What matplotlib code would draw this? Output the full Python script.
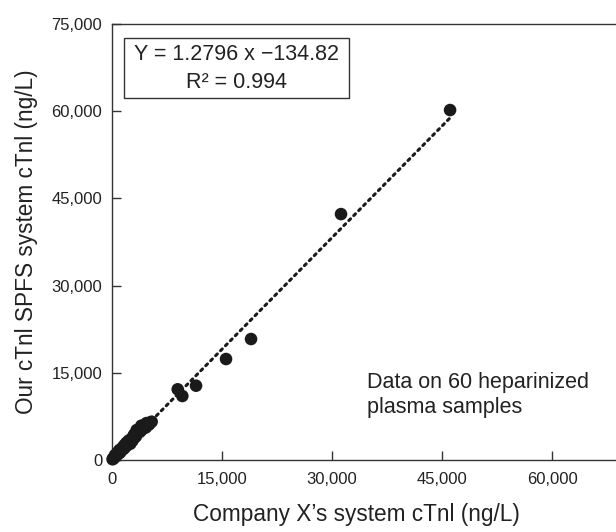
import matplotlib
matplotlib.use("Agg")
import matplotlib.pyplot as plt
from matplotlib.patches import Rectangle

plt.rcParams['font.family'] = ['Liberation Sans', 'DejaVu Sans']

# Data (ng/L)
company_x = [80, 150, 260, 340, 420, 510, 590, 700, 760, 880, 950, 1020, 1150, 1230, 1310,
             1420, 1500, 1630, 1720, 1800, 1890, 2010, 2130, 2230, 2290, 2410, 2500, 2640,
             2780, 2870, 2950, 3120, 3260, 3370, 3480, 3650, 3810, 3950, 4120, 4300, 4480,
             4620, 4850, 5050, 5220, 5410, 620, 1080, 1960, 2560, 3030, 4000, 4700,
             8960, 9590, 11460, 15550, 18960, 31230, 46100]
spfs_y = [120, 260, 300, 520, 860, 640, 900, 1050, 1300, 1100, 1400, 1720, 1500, 1800, 1650,
          2000, 2250, 1950, 2580, 2300, 2700, 2450, 3000, 2870, 3350, 3100, 2800, 3600,
          3300, 4010, 3700, 4300, 4050, 5160, 4700, 5000, 4850, 5400, 5250, 5700, 6020,
          5600, 6200, 6100, 6450, 6590, 780, 1250, 2950, 3450, 4400, 5900, 6350,
          12160, 11010, 12780, 17370, 20810, 42300, 60200]

slope = 1.2796
intercept = -134.82
fit_x = [0, 46000]
fit_y = [slope * v + intercept for v in fit_x]

x_ticks = [0, 15000, 30000, 45000, 60000]
y_ticks = [0, 15000, 30000, 45000, 60000, 75000]
x_tick_labels = ["0", "15,000", "30,000", "45,000", "60,000"]
y_tick_labels = ["0", "15,000", "30,000", "45,000", "60,000", "75,000"]

W, H = 616, 532
fig = plt.figure(figsize=(W / 100, H / 100), dpi=100)
ax = fig.add_axes([112 / W, (H - 460) / H, 660 / W, 436 / H])
ax.set_xlim(0, 90000)
ax.set_ylim(0, 75000)

dark = '#222222'
ax.plot(fit_x, fit_y, linestyle=(0, (0.8, 1.5)), color='#1a1a1a', linewidth=2.2,
        dash_capstyle='round', zorder=2)
ax.scatter(company_x, spfs_y, s=82, color='#1a1a1a', edgecolors='none', zorder=3, clip_on=False)

for s in ['left', 'bottom', 'top']:
    ax.spines[s].set_color('#333333')
    ax.spines[s].set_linewidth(1.0)
ax.spines['right'].set_visible(False)

ax.set_xticks(x_ticks)
ax.set_xticklabels(x_tick_labels)
ax.set_yticks(y_ticks)
ax.set_yticklabels(y_tick_labels)
ax.tick_params(axis='both', direction='in', length=6.5, width=1.0, color='#333333',
               labelsize=12, labelcolor=dark)
ax.tick_params(axis='x', pad=9)
ax.tick_params(axis='y', pad=7)

ax.set_xlabel("Company X’s system cTnl (ng/L)", fontsize=16.3, color=dark, labelpad=12)
ax.xaxis.set_label_coords((356 - 112) / 660, -(512 - 460) / 436 - 0.005)
ax.xaxis.label.set_va('center')
ax.set_ylabel("Our cTnl SPFS system cTnl (ng/L)", fontsize=16.3, color=dark, labelpad=10)

ax.text(367 / W, 1 - 395 / H, "Data on 60 heparinized\nplasma samples",
        transform=fig.transFigure, fontsize=15.5, color=dark, ha='left', va='center',
        linespacing=1.25)

# equation box
fig.patches.append(Rectangle((124 / W, 1 - 98 / H), (349 - 124) / W, 60 / H,
                             transform=fig.transFigure, fill=False,
                             edgecolor='#333333', linewidth=1.0))
fig.text(236.5 / W, 1 - 55 / H, "Y = 1.2796 x −134.82", fontsize=15.5, color=dark,
         ha='center', va='center')
fig.text(236.5 / W, 1 - 82 / H, "R² = 0.994", fontsize=15.5, color=dark,
         ha='center', va='center')

fig.savefig("out.png", dpi=100)
